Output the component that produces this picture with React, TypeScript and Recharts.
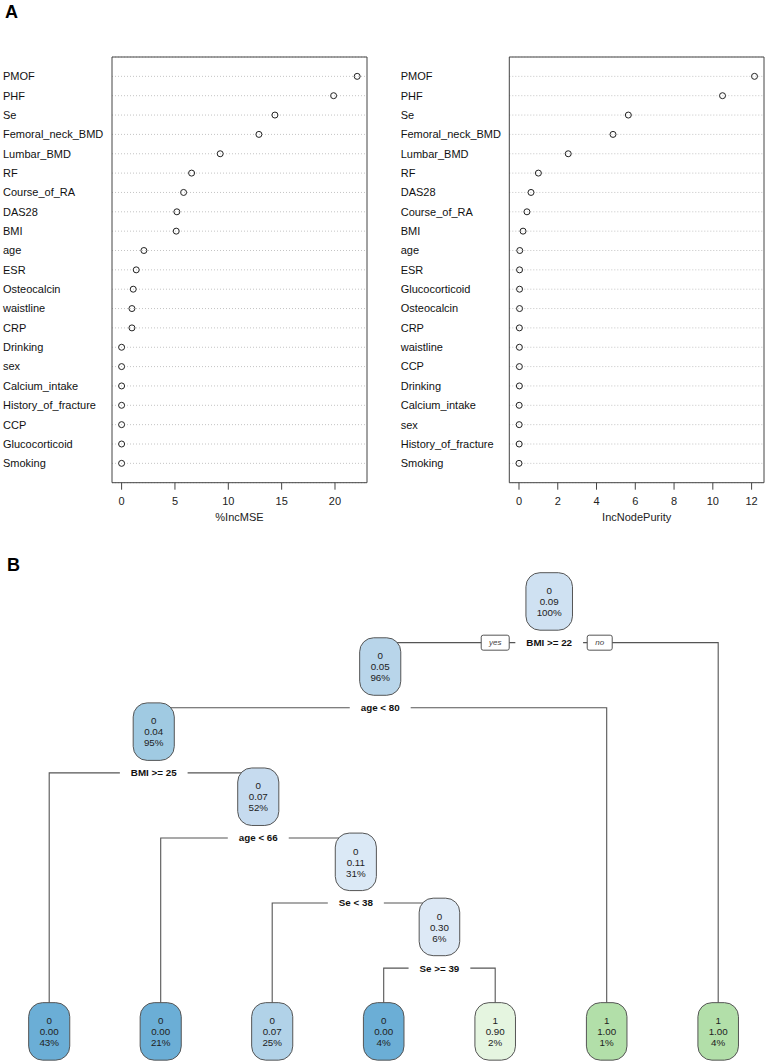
import React from 'react';
import { ScatterChart, Scatter, XAxis, YAxis, CartesianGrid, ReferenceArea } from 'recharts';

const FONT = '"Liberation Sans", Arial, Helvetica, sans-serif';

// Panel A, left: %IncMSE
const mseNames = ['PMOF', 'PHF', 'Se', 'Femoral_neck_BMD', 'Lumbar_BMD', 'RF', 'Course_of_RA', 'DAS28', 'BMI', 'age', 'ESR', 'Osteocalcin', 'waistline', 'CRP', 'Drinking', 'sex', 'Calcium_intake', 'History_of_fracture', 'CCP', 'Glucocorticoid', 'Smoking'];
const mseValues = [22.08, 19.87, 14.37, 12.87, 9.24, 6.56, 5.81, 5.18, 5.12, 2.09, 1.37, 1.09, 0.97, 0.97, 0, 0, 0, 0, 0, 0, 0];
const mseTicks = [0, 5, 10, 15, 20];

// Panel A, right: IncNodePurity
const purityNames = ['PMOF', 'PHF', 'Se', 'Femoral_neck_BMD', 'Lumbar_BMD', 'RF', 'DAS28', 'Course_of_RA', 'BMI', 'age', 'ESR', 'Glucocorticoid', 'Osteocalcin', 'CRP', 'waistline', 'CCP', 'Drinking', 'Calcium_intake', 'sex', 'History_of_fracture', 'Smoking'];
const purityValues = [12.15, 10.5, 5.64, 4.85, 2.54, 1.0, 0.62, 0.41, 0.21, 0.04, 0.03, 0.03, 0.03, 0.02, 0.02, 0.02, 0.02, 0.01, 0.01, 0.01, 0.0];
const purityTicks = [0, 2, 4, 6, 8, 10, 12];

// Panel B: rpart tree (rpart node numbering)
const nodeIds = [1, 2, 3, 4, 5, 8, 9, 18, 19, 38, 39, 78, 79];
const nodeClass = ['0', '0', '1', '0', '1', '0', '0', '0', '0', '0', '0', '0', '1'];
const nodeProb = ['0.09', '0.05', '1.00', '0.04', '1.00', '0.00', '0.07', '0.00', '0.11', '0.07', '0.30', '0.00', '0.90'];
const nodePct = ['100%', '96%', '4%', '95%', '1%', '43%', '52%', '21%', '31%', '25%', '6%', '4%', '2%'];
const splitIds = [1, 2, 4, 9, 19, 39];
const splitLabels = ['BMI >= 22', 'age < 80', 'BMI >= 25', 'age < 66', 'Se < 38', 'Se >= 39'];

const nodeFill: Record<number, string> = {
    1: '#cfe1f2', 2: '#b8d5ea', 3: '#b2dfa9', 4: '#a0cae2', 5: '#b2dfa9',
    8: '#6baed6', 9: '#c6dbef', 18: '#6baed6', 19: '#dbe9f6', 38: '#b1d2e8',
    39: '#dde9f6', 78: '#6baed6', 79: '#e5f5e0',
};

let ctx: CanvasRenderingContext2D | null = null;
function textWidth(s: string, font: string) {
    if (!ctx) ctx = document.createElement('canvas').getContext('2d');
    if (!ctx) return s.length * 5.5;
    ctx.font = font;
    return ctx.measureText(s).width;
}

interface DotPanelProps {
    names: string[];
    values: number[];
    ticks: number[];
    domain: [number, number];
    title: string;
    left: number;
    width: number;
    axisWidth: number;
    marginRight: number;
    labelX: number;
}

function DotPanel({ names, values, ticks, domain, title, left, width, axisWidth, marginRight, labelX }: DotPanelProps) {
    const n = names.length;
    const data = names.map((name, i) => ({ name, value: values[i], row: n - i }));
    const rows = data.map(d => d.row);
    const byRow: Record<number, string> = {};
    data.forEach(d => { byRow[d.row] = d.name; });

    return (
        <div style={{ position: 'absolute', left, top: 0 }}>
            <ScatterChart width={width} height={530} margin={{ top: 57, right: marginRight, bottom: 0, left: 0 }}>
                <CartesianGrid vertical={false} stroke="#c4c4c4" strokeDasharray="1 2" />
                <XAxis
                    type="number"
                    dataKey="value"
                    domain={domain}
                    ticks={ticks}
                    interval={0}
                    allowDataOverflow
                    height={47.3}
                    axisLine={false}
                    tickSize={7}
                    tickMargin={7}
                    tickLine={{ stroke: '#444' }}
                    tick={{ fontSize: 11, fill: '#222', fontFamily: FONT }}
                    label={{ value: title, position: 'insideTop', offset: 30, fontSize: 11, fill: '#222', fontFamily: FONT }}
                />
                <YAxis
                    type="number"
                    dataKey="row"
                    domain={[0, n + 1]}
                    ticks={rows}
                    interval={0}
                    width={axisWidth}
                    axisLine={false}
                    tickLine={false}
                    tick={(p: any) => (
                        <text x={labelX} y={p.y} dy="0.35em" fontSize={11} fill="#111" fontFamily={FONT} textAnchor="start">
                            {byRow[p.payload.value]}
                        </text>
                    )}
                />
                <ReferenceArea x1={domain[0]} x2={domain[1]} y1={0} y2={n + 1} fill="none" stroke="#444" strokeWidth={1} ifOverflow="visible" />
                <Scatter
                    data={data}
                    isAnimationActive={false}
                    shape={(p: any) => <circle cx={p.cx} cy={p.cy} r={3} fill="none" stroke="#222" strokeWidth={1} />}
                />
            </ScatterChart>
        </div>
    );
}

// tree layout: leaves get consecutive slots, inner nodes sit between their children
const idSet = new Set(nodeIds);
const isLeaf = (id: number) => !idSet.has(2 * id);
const slot: Record<number, number> = {};
let leafCount = 0;
function place(id: number): number {
    if (isLeaf(id)) {
        slot[id] = leafCount++;
        return slot[id];
    }
    const a = place(2 * id);
    const b = place(2 * id + 1);
    slot[id] = (a + b) / 2;
    return slot[id];
}
place(1);
const LEAF_LEVEL = 6.605;
const level = (id: number) => (isLeaf(id) ? LEAF_LEVEL : Math.floor(Math.log2(id)));
const LABEL_DROP = 1.075;

const NODE_H = 57.5;
const NODE_FONT = `9.8px ${FONT}`;
const SPLIT_FONT = `bold 9.8px ${FONT}`;

function NodeShape(p: any) {
    const d = p.payload;
    const lines = [d.cls, d.prob, d.pct];
    const w = Math.max(...lines.map(s => textWidth(s, NODE_FONT))) + 21.5;
    return (
        <g>
            <rect x={p.cx - w / 2} y={p.cy} width={w} height={NODE_H} rx={14} ry={14} fill={d.fill} stroke="#555" strokeWidth={1} />
            {lines.map((s, i) => (
                <text key={i} x={p.cx} y={p.cy + 18 + i * 11} dy="0.35em" textAnchor="middle" fontSize={9.8} fill="#222" fontFamily={FONT}>
                    {s}
                </text>
            ))}
        </g>
    );
}

function SplitShape(p: any) {
    const d = p.payload;
    const w = textWidth(d.label, SPLIT_FONT) + 22;
    return (
        <g>
            <rect x={p.cx - w / 2} y={p.cy - 7} width={w} height={14} fill="#fff" />
            <text x={p.cx} y={p.cy} dy="0.35em" textAnchor="middle" fontSize={9.8} fontWeight="bold" fill="#111" fontFamily={FONT}>
                {d.label}
            </text>
            {d.root && (
                <g>
                    <rect x={p.cx - 68} y={p.cy - 7.5} width={28} height={15} rx={2} fill="#fff" stroke="#555" />
                    <text x={p.cx - 54} y={p.cy} dy="0.35em" textAnchor="middle" fontSize={8} fontStyle="italic" fill="#444" fontFamily={FONT}>yes</text>
                    <rect x={p.cx + 38} y={p.cy - 7.5} width={25} height={15} rx={2} fill="#fff" stroke="#555" />
                    <text x={p.cx + 50.5} y={p.cy} dy="0.35em" textAnchor="middle" fontSize={8} fontStyle="italic" fill="#444" fontFamily={FONT}>no</text>
                </g>
            )}
        </g>
    );
}

function TreePanel() {
    const nodeData = nodeIds.map((id, i) => ({
        u: slot[id], L: level(id), cls: nodeClass[i], prob: nodeProb[i], pct: nodePct[i], fill: nodeFill[id],
    }));
    const splitData = splitIds.map((id, i) => ({ u: slot[id], L: level(id) + LABEL_DROP, label: splitLabels[i], root: id === 1 }));
    const edges = splitIds.map(id => {
        const y = level(id) + LABEL_DROP;
        const l = 2 * id;
        const r = 2 * id + 1;
        const pts: { u: number; L: number }[] = [];
        if (isLeaf(l)) pts.push({ u: slot[l], L: LEAF_LEVEL });
        pts.push({ u: slot[l], L: y });
        pts.push({ u: slot[r], L: y });
        if (isLeaf(r)) pts.push({ u: slot[r], L: LEAF_LEVEL });
        return pts;
    });

    return (
        <div style={{ position: 'absolute', left: 0, top: 560 }}>
            <ScatterChart width={767} height={503} margin={{ top: 0, right: 0, bottom: 0, left: 0 }}>
                <XAxis type="number" dataKey="u" domain={[-0.4413, 6.4377]} hide allowDataOverflow />
                <YAxis type="number" dataKey="L" domain={[-0.195, 7.532]} reversed hide allowDataOverflow />
                {edges.map((pts, i) => (
                    <Scatter
                        key={`e${i}`}
                        data={pts}
                        line={{ stroke: '#555', strokeWidth: 1.1 }}
                        lineType="joint"
                        shape={() => <g />}
                        isAnimationActive={false}
                    />
                ))}
                <Scatter data={nodeData} shape={NodeShape} isAnimationActive={false} />
                <Scatter data={splitData} shape={SplitShape} isAnimationActive={false} />
            </ScatterChart>
        </div>
    );
}

export default function App() {
    return (
        <div style={{ position: 'absolute', left: 0, top: 0, width: 767, height: 1063, background: '#fff', fontFamily: FONT }}>
            <div style={{ position: 'absolute', left: 5, top: 1, fontSize: 18, fontWeight: 'bold', lineHeight: '22px' }}>A</div>
            <div style={{ position: 'absolute', left: 7, top: 554, fontSize: 18, fontWeight: 'bold', lineHeight: '22px' }}>B</div>
            <DotPanel
                names={mseNames}
                values={mseValues}
                ticks={mseTicks}
                domain={[-0.9, 23.0]}
                title="%IncMSE"
                left={0}
                width={380}
                axisWidth={112}
                marginRight={13}
                labelX={3}
            />
            <DotPanel
                names={purityNames}
                values={purityValues}
                ticks={purityTicks}
                domain={[-0.5, 12.64]}
                title="IncNodePurity"
                left={380}
                width={387}
                axisWidth={129.3}
                marginRight={3}
                labelX={20.7}
            />
            <TreePanel />
        </div>
    );
}
